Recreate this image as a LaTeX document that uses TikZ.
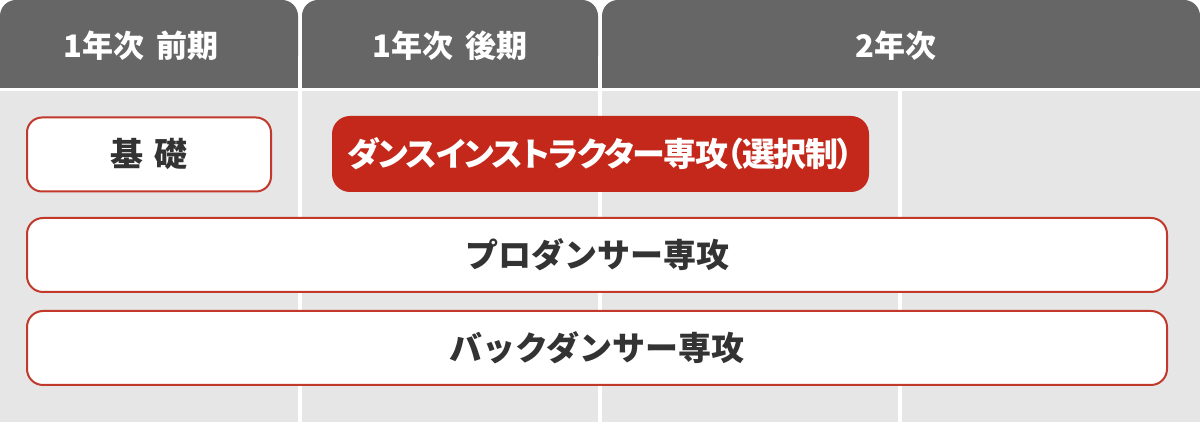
\documentclass[tikz,border=0pt]{standalone}
\usepackage{fontspec}
\setmainfont{Noto Sans CJK JP}
\newfontfamily\jpp{Noto Sans CJK JP}[RawFeature=+palt, LetterSpace=-4]
\definecolor{hdr}{HTML}{666666}
\definecolor{bodybg}{HTML}{E6E6E6}
\definecolor{redfill}{HTML}{C4281B}
\definecolor{redline}{HTML}{C0392B}
\definecolor{txt}{HTML}{333333}
\tikzset{
  tabbox/.style={fill=hdr},
  tablabel/.style={text=white, font=\bfseries\fontsize{31}{31}\selectfont, inner sep=0pt},
  course/.style={draw=redline, line width=2pt, fill=white, rounded corners=16pt, text=txt,
    font=\bfseries\fontsize{33}{33}\selectfont, inner sep=0pt},
  coursered/.style={fill=redfill, rounded corners=18pt, text=white,
    font=\jpp\bfseries\fontsize{33}{33}\selectfont, inner sep=0pt},
  sepline/.style={draw=white, line width=3.5pt}
}
\begin{document}
\begin{tikzpicture}[x=1pt,y=1pt]
\useasboundingbox (0,0) rectangle (1200,422);
\fill[white] (0,0) rectangle (1200,422);
% body background
\fill[bodybg] (0,0) rectangle (1200,331);
\coordinate (s1t) at (300,331); \coordinate (s1b) at (300,0);
\coordinate (s2t) at (600,331); \coordinate (s2b) at (600,0);
\coordinate (s3t) at (900,331); \coordinate (s3b) at (900,0);
\draw[sepline] (s1t) -- (s1b);
\draw[sepline] (s2t) -- (s2b);
\draw[sepline] (s3t) -- (s3b);
% header tabs
\fill[tabbox, rounded corners=16pt] (0,350) rectangle (298,422);
\fill[tabbox] (0,334) rectangle (298,370);
\fill[tabbox, rounded corners=16pt] (302,350) rectangle (598,422);
\fill[tabbox] (302,334) rectangle (598,370);
\fill[tabbox, rounded corners=16pt] (602,350) rectangle (1200,422);
\fill[tabbox] (602,334) rectangle (1200,370);
\node[tablabel] (t1) at (141,376) {1年次\hspace{0.4em}前期};
\node[tablabel] (t2) at (450,376) {1年次\hspace{0.4em}後期};
\node[tablabel] (t3) at (896,376) {2年次};
% courses
\node[course, minimum width=244pt, minimum height=74pt, rounded corners=15pt] (kiso) at (149,267.5) {基\hspace{0.35em}礎};
\node[coursered, minimum width=537pt, minimum height=76pt] (inst) at (600.5,268) {ダンスインストラクター専攻（選択制）};
\node[course, minimum width=1140pt, minimum height=74pt] (pro) at (597,167) {プロダンサー専攻};
\node[course, minimum width=1140pt, minimum height=74pt] (back) at (597,74) {バックダンサー専攻};
\end{tikzpicture}
\end{document}
